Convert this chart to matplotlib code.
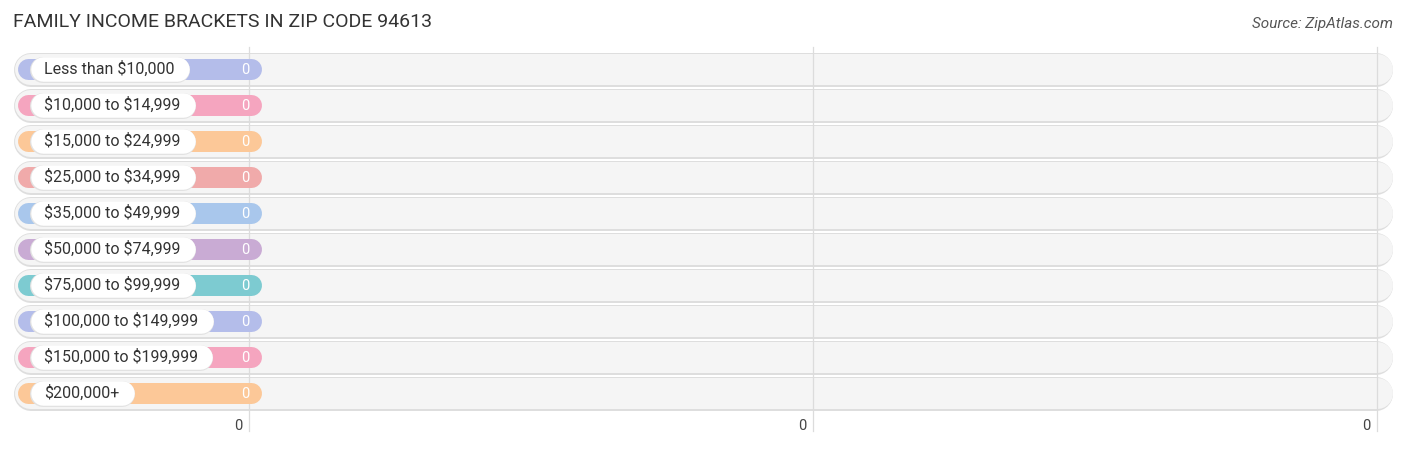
import matplotlib
matplotlib.use("Agg")
import matplotlib.pyplot as plt

# data
categories = ["Less than $10,000", "$10,000 to $14,999", "$15,000 to $24,999",
              "$25,000 to $34,999", "$35,000 to $49,999", "$50,000 to $74,999",
              "$75,000 to $99,999", "$100,000 to $149,999", "$150,000 to $199,999",
              "$200,000+"]
values = [0, 0, 0, 0, 0, 0, 0, 0, 0, 0]
colors = ["#b4bdea", "#f5a5bf", "#fcc898", "#f0aaaa", "#a9c7ec",
          "#c9abd4", "#7dcbd1", "#b4bdea", "#f5a5bf", "#fcc898"]
tick_pos = [0, 1, 2]
tick_labels = ["0", "0", "0"]

W, H, DPI = 1406, 450, 100
X0, UNIT = 249, 564        # pixel of value 0, pixels per axis unit
Y0, ROW = 69, 36           # pixel of first row centre, row pitch


def px(d):
    return d / UNIT


def lw(h):
    return h * 72 / DPI


plt.rcParams['font.family'] = ['Roboto', 'DejaVu Sans']
plt.rcParams['text.parse_math'] = False

fig = plt.figure(figsize=(W / DPI, H / DPI), dpi=DPI)
ax = fig.add_axes([0, 0, 1, 1])
ax.set_xlim(px(-X0), px(W - X0))
ax.set_ylim((H - Y0) / ROW, -Y0 / ROW)
ax.axis("off")

# grid lines
for t in tick_pos:
    ax.plot([t, t], [-0.6, 10.05], color="#dcdcdc", lw=0.9, zorder=1)

left = px(14 - X0)
right = px(1393 - X0)
labels = []
for i, (cat, v, c) in enumerate(zip(categories, values, colors)):
    # background pill
    ax.plot([left + px(17), right - px(17)], [i + 0.025, i + 0.025], color="#dedede",
            lw=lw(34), solid_capstyle="round", zorder=0)
    ax.plot([left + px(16), right - px(16)], [i, i], color="#f5f5f5",
            lw=lw(31), solid_capstyle="round", zorder=0.5)
    # coloured bar
    bl = px(18 - X0) + px(10.5)
    br = v + px(13) - px(10.5)
    ax.plot([bl, br], [i, i], color=c, lw=lw(21), solid_capstyle="round", zorder=2)
    # label text
    labels.append(ax.text(px(44 - X0), i, cat, ha="left", va="center", fontsize=11.5,
                          color="#333333", zorder=5))
    # value label
    ax.text(v - px(4), i + 0.02, str(v), ha="center", va="center", fontsize=10.5,
            color="white", zorder=3)

# white pills behind labels, sized from the text
fig.canvas.draw()
r = fig.canvas.get_renderer()
for i, t in enumerate(labels):
    bb = t.get_window_extent(renderer=r)
    x_end = bb.x1 + 15
    ax.plot([px(31 - X0) + px(12.5), px(x_end - X0) - px(12.5)], [i + 0.03, i + 0.03],
            color="#e2e2e2", lw=lw(26), solid_capstyle="round", zorder=3.5)
    ax.plot([px(31 - X0) + px(12.5), px(x_end - X0) - px(12.5)], [i, i],
            color="white", lw=lw(24.5), solid_capstyle="round", zorder=4)

for t, lab in zip(tick_pos, tick_labels):
    ax.text(t - px(11), (426 - Y0) / ROW, lab, ha="center", va="center",
            fontsize=10.5, color="#444444")

fig.text(13 / W, 1 - 22 / H, "FAMILY INCOME BRACKETS IN ZIP CODE 94613",
         ha="left", va="center", fontsize=14, color="#333333")
fig.text(1393 / W, 1 - 24 / H, "Source: ZipAtlas.com", ha="right", va="center",
         fontsize=11, color="#555555", style="italic")

fig.savefig("out.png", dpi=DPI)
